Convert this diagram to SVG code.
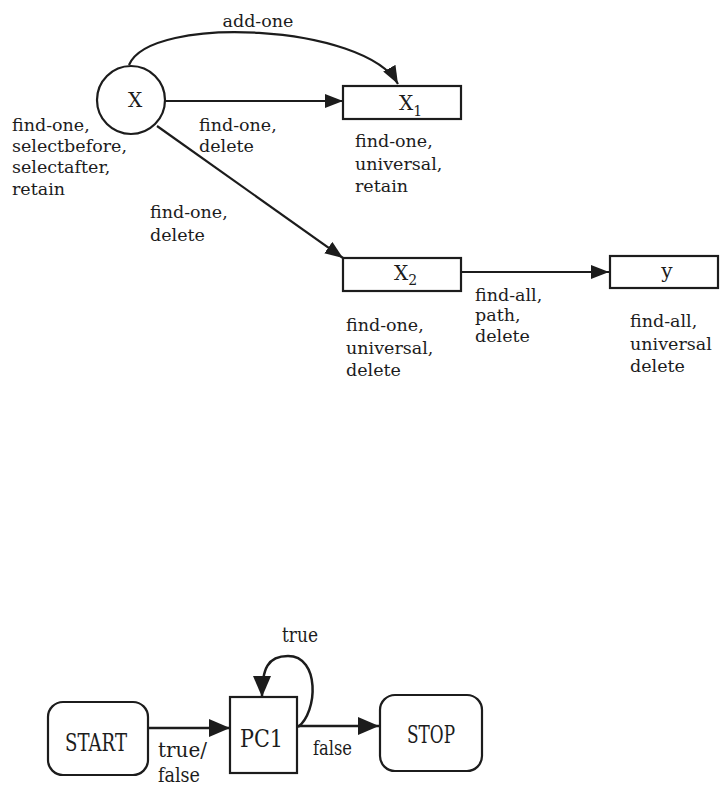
<svg xmlns="http://www.w3.org/2000/svg" width="720" height="789" viewBox="0 0 720 789">
  <style>
    .lbl { font-family: "DejaVu Serif", "Liberation Serif", serif; font-size: 17.5px; fill: #1c1c1c; }
    .node-lbl { font-family: "DejaVu Serif", "Liberation Serif", serif; font-size: 20px; fill: #1c1c1c; }
    .sub { font-size: 14px; }
    .slab { font-family: "DejaVu Serif", "Liberation Serif", serif; fill: #1c1c1c; }
    .shape { fill: none; stroke: #1c1c1c; stroke-width: 2.2; }
    .edge { fill: none; stroke: #1c1c1c; stroke-width: 2.2; }
    .edge-b { fill: none; stroke: #1c1c1c; stroke-width: 2.5; }
  </style>
  <defs>
    <marker id="arrow" markerUnits="userSpaceOnUse" markerWidth="20" markerHeight="16" refX="18" refY="7" orient="auto">
      <path d="M0,0 L18,7 L0,14 Z" fill="#1c1c1c"/>
    </marker>
    <marker id="arrow-big" markerUnits="userSpaceOnUse" markerWidth="24" markerHeight="20" refX="21" refY="9" orient="auto">
      <path d="M0,0 L21,9 L0,18 Z" fill="#1c1c1c"/>
    </marker>
  </defs>
  <rect width="720" height="789" fill="#ffffff"/>

  <!-- upper graph: connectors -->
  <g id="connectors-top">
    <path class="edge" d="M129,65 C150,14 365,24 398,84" marker-end="url(#arrow)"/>
    <path class="edge" d="M165,101 L343,101" marker-end="url(#arrow)"/>
    <path class="edge" d="M157,126 L343,258" marker-end="url(#arrow)"/>
    <path class="edge" d="M461,272 L609,272" marker-end="url(#arrow)"/>
    <text class="lbl" x="258" y="27" text-anchor="middle">add-one</text>
    <text class="lbl" x="199" y="131">find-one,</text>
    <text class="lbl" x="199" y="152">delete</text>
    <text class="lbl" x="150" y="218">find-one,</text>
    <text class="lbl" x="150" y="241">delete</text>
    <text class="lbl" x="475" y="301">find-all,</text>
    <text class="lbl" x="475" y="321">path,</text>
    <text class="lbl" x="475" y="342">delete</text>
  </g>

  <!-- node x -->
  <g id="node-x">
    <circle class="shape" cx="131" cy="100" r="34"/>
    <text class="node-lbl" x="135" y="107" text-anchor="middle">X</text>
    <text class="lbl" x="12" y="131">find-one,</text>
    <text class="lbl" x="12" y="152">selectbefore,</text>
    <text class="lbl" x="12" y="173">selectafter,</text>
    <text class="lbl" x="12" y="195">retain</text>
  </g>

  <!-- node x1 -->
  <g id="node-x1">
    <rect class="shape" x="343" y="86" width="118" height="33"/>
    <text class="node-lbl" x="399" y="110">X<tspan class="sub" dy="6">1</tspan></text>
    <text class="lbl" x="355" y="147">find-one,</text>
    <text class="lbl" x="355" y="170">universal,</text>
    <text class="lbl" x="355" y="192">retain</text>
  </g>

  <!-- node x2 -->
  <g id="node-x2">
    <rect class="shape" x="343" y="258" width="118" height="33"/>
    <text class="node-lbl" x="394" y="280">X<tspan class="sub" dy="5">2</tspan></text>
    <text class="lbl" x="346" y="331">find-one,</text>
    <text class="lbl" x="346" y="354">universal,</text>
    <text class="lbl" x="346" y="376">delete</text>
  </g>

  <!-- node y -->
  <g id="node-y">
    <rect class="shape" x="610" y="256" width="108" height="32"/>
    <text class="node-lbl" x="667" y="278" text-anchor="middle">y</text>
    <text class="lbl" x="630" y="327">find-all,</text>
    <text class="lbl" x="630" y="350">universal</text>
    <text class="lbl" x="630" y="372">delete</text>
  </g>

  <!-- lower graph: connectors -->
  <g id="connectors-bottom">
    <path class="edge-b" d="M148,728 L230,728" marker-end="url(#arrow-big)"/>
    <path class="edge-b" d="M297,726 L379,726" marker-end="url(#arrow-big)"/>
    <path class="edge-b" d="M298,727 C318,712 320,656 288,656 C268,656 262,668 262,697" marker-end="url(#arrow-big)"/>
    <text class="slab" x="158" y="757" font-size="20" textLength="49" lengthAdjust="spacingAndGlyphs">true/</text>
    <text class="slab" x="158" y="782" font-size="20" textLength="42" lengthAdjust="spacingAndGlyphs">false</text>
    <text class="slab" x="282" y="642" font-size="20" textLength="36" lengthAdjust="spacingAndGlyphs">true</text>
    <text class="slab" x="313" y="755" font-size="20" textLength="39" lengthAdjust="spacingAndGlyphs">false</text>
  </g>

  <!-- START -->
  <g id="node-start">
    <rect class="shape" x="48" y="702" width="100" height="73" rx="15"/>
    <text class="slab" x="65" y="751" font-size="25" textLength="62" lengthAdjust="spacingAndGlyphs">START</text>
  </g>

  <!-- PC1 -->
  <g id="node-pc1">
    <rect class="shape" x="230" y="697" width="67" height="76"/>
    <text class="slab" x="240" y="747" font-size="25" textLength="43" lengthAdjust="spacingAndGlyphs">PC1</text>
  </g>

  <!-- STOP -->
  <g id="node-stop">
    <rect class="shape" x="380" y="695" width="102" height="76" rx="15"/>
    <text class="slab" x="407" y="743" font-size="25" textLength="48" lengthAdjust="spacingAndGlyphs">STOP</text>
  </g>
</svg>
